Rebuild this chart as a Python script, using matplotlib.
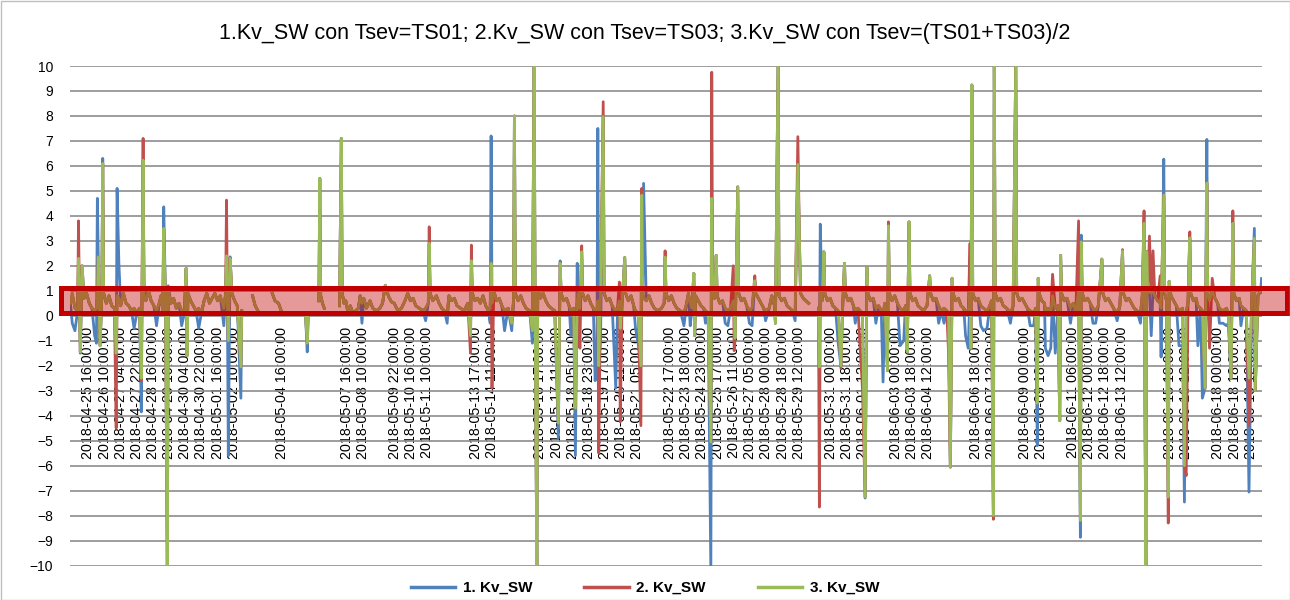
import numpy as np
import matplotlib
matplotlib.use('Agg')
from matplotlib import pyplot as plt
from matplotlib.patches import Rectangle
from matplotlib.lines import Line2D

plt.rcParams['font.family'] = ['Liberation Sans', 'DejaVu Sans']

nan = np.nan
title = "1.Kv_SW con Tsev=TS01; 2.Kv_SW con Tsev=TS03; 3.Kv_SW con Tsev=(TS01+TS03)/2"
names = ['1. Kv_SW', '2. Kv_SW', '3. Kv_SW']
colors = ['#4F81BD', '#C0504D', '#9BBB59']
n_rows = 1329          # hourly rows, row 0 = 2018-04-24 20:00
label_step = 18        # excel shows every 18th category label
first_label = 20

# category labels (blank where the row has no timestamp)
x_labels = ['04-25 16', '04-26 10', '04-27 04', '04-27 22', '04-28 16', '04-29 10',
            '04-30 04', '04-30 22', '05-01 16', '05-02 10', '', '', '05-04 16',
            '', '', '', '05-07 16', '05-08 10', '', '05-09 22', '05-10 16', '05-11 10',
            '', '', '05-13 17', '05-14 11', '', '', '05-16 17', '05-17 11', '05-18 05',
            '05-18 23', '05-19 17', '05-20 11', '05-21 05', '', '05-22 17', '05-23 18',
            '05-24 23', '05-25 17', '05-26 11', '05-27 05', '05-28 00', '05-28 18',
            '05-29 12', '', '05-31 00', '05-31 18', '06-01 12', '', '06-03 00',
            '06-03 18', '06-04 12', '', '', '06-06 18', '06-07 12', '', '06-09 00',
            '06-09 18', '', '06-11 06', '06-12 00', '06-12 18', '06-13 12', '', '',
            '06-15 18', '06-16 12', '', '06-18 00', '06-18 18', '06-19 12']

# series 3 (row, value); nan = missing rows
kv3_pts = [
    (0, 0.5), (2, 0.9), (5, 0.3), (8, 0.2), (9, 2.3), (10, 0.6), (11, -1.45), (12, 0.5),
    (13, 2.0), (15, 0.7), (18, 0.9), (21, 0.5), (24, 0.3), (27, 0.2), (29, 0.3), (30, 0.6),
    (31, 2.36), (33, -1.2), (35, 0.8), (36, 6.1), (37, 0.9), (40, 0.5), (43, 0.8), (46, 0.4),
    (49, 0.3), (51, -1.5), (52, 0.8), (54, 0.7), (56, 0.4), (59, 0.9), (62, 0.5), (65, 0.4),
    (68, 0.2), (71, 0.3), (74, 0.1), (77, 0.3), (79, -2.5), (81, 6.23), (82, 0.8), (84, 0.6),
    (87, 1.0), (90, 0.6), (93, 0.4), (96, 0.2), (99, 0.5), (101, 0.8), (103, 0.2), (104, 3.5),
    (106, 0.6), (108, -10.2), (109, 1.0), (112, 0.5), (115, 0.7), (118, 0.3), (121, 0.5),
    (124, 0.2), (127, 0.1), (129, 1.9), (130, -1.6), (131, 0.9), (134, 0.6), (137, 0.4),
    (140, 0.2), (143, 0.3), (146, 0.1), (149, 0.6), (152, 0.9), (155, 0.5), (158, 0.7),
    (161, 0.9), (164, 0.6), (167, 0.8), (171, 0.3), (173, 0.9), (174, 2.4), (175, 0.5),
    (176, -1.0), (178, 2.3), (180, 0.9), (183, 0.6), (186, 0.4), (190, -2.05), (191, 0.2),
    (192, nan),
    (203, 0.8), (206, 0.4), (209, 0.2), (210, nan),
    (225, 0.9), (228, 0.6), (232, 0.5), (236, 0.1), (237, nan),
    (262, 0.1), (264, -1.1), (265, 0.0), (266, nan),
    (277, 0.6), (278, 5.5), (279, 0.8), (281, 0.5), (283, 0.3), (284, nan),
    (300, 0.4), (302, 7.1), (303, 0.9), (305, 0.5), (307, 0.6), (309, 0.2), (312, 0.4),
    (315, 0.1), (318, 0.2), (321, 0.3), (323, 0.8), (325, 0.5), (327, 0.7), (330, 0.3),
    (334, 0.6), (337, 0.3), (341, 0.2), (345, 0.3), (348, 0.5), (351, 1.22), (353, 0.95),
    (355, 0.75), (358, 0.55), (361, 0.5), (365, 0.2), (369, 0.3), (373, 0.6), (376, 0.9),
    (379, 0.6), (382, 0.7), (385, 0.4), (389, 0.3), (393, 0.2), (396, 0.3), (399, 0.5),
    (400, 2.9), (401, 0.9), (404, 0.6), (408, 0.8), (411, 0.5), (414, 0.3), (417, 0.2),
    (420, 0.1), (422, 0.8), (425, 0.6), (428, 0.7), (431, 0.4), (435, 0.3), (439, 0.2),
    (443, 0.5), (446, -0.8), (447, 2.2), (448, 0.9), (451, 0.6), (454, 0.7), (457, 0.5),
    (460, 0.8), (463, 0.4), (466, 0.2), (468, 0.3), (469, 2.1), (470, 0.5), (472, 1.0),
    (475, 0.6), (478, 0.7), (481, 0.4), (484, 0.2), (488, 0.3), (492, -0.3), (494, 0.6),
    (495, 8.0), (496, 0.9), (499, 0.6), (502, 0.8), (505, 0.5), (508, 0.3), (512, 0.2),
    (515, -0.6), (517, 10.3), (518, 0.8), (520, -10.2), (521, 1.1), (524, 0.7), (527, 0.9),
    (530, 0.6), (533, 0.4), (536, 0.3), (540, 0.2), (544, -4.3), (546, 2.1), (547, 0.9),
    (550, 0.6), (553, 0.7), (556, 0.4), (558, 0.2), (561, 0.3), (563, -3.7), (565, 0.5),
    (566, 0.9), (568, 0.3), (570, 2.56), (571, 0.9), (574, 0.6), (577, 0.8), (580, 0.5),
    (583, 0.3), (585, 0.1), (587, 0.2), (588, 0.6), (589, -2.0), (591, 0.8), (594, 7.97),
    (595, 0.9), (598, 0.6), (601, 0.7), (604, 0.4), (608, 0.2), (610, 0.3), (612, 0.6),
    (613, -0.5), (615, 0.5), (618, 2.33), (619, 0.9), (622, 0.6), (625, 0.8), (628, 0.4),
    (630, 0.2), (633, 0.1), (636, -2.0), (637, 4.83), (638, 0.9), (639, 0.7), (642, 0.6),
    (645, 0.8), (648, 0.5), (651, 0.3), (655, 0.2), (659, 0.3), (662, 0.5), (663, 2.35),
    (664, 0.9), (667, 0.6), (670, 0.8), (673, 0.5), (676, 0.3), (680, 0.2), (684, 0.1),
    (687, 0.5), (689, 0.9), (691, 0.5), (693, 0.3), (695, 1.7), (696, -0.8), (697, 0.8),
    (700, 0.6), (703, 0.4), (706, 0.3), (708, 0.2), (711, 0.1), (714, -5.06), (715, 4.7),
    (716, 0.9), (718, 0.7), (720, 2.42), (721, 0.8), (724, 0.5), (727, 0.6), (730, 0.3),
    (733, 0.2), (736, 0.3), (739, 0.6), (740, 0.4), (741, -0.9), (744, 5.16), (745, 0.9),
    (748, 0.6), (751, 0.7), (754, 0.4), (757, 0.2), (760, 0.3), (763, 1.4), (764, 0.9),
    (767, 0.7), (770, 0.5), (773, 0.3), (775, 0.2), (779, 0.3), (782, 0.8), (785, 0.4),
    (786, -0.3), (789, 10.3), (790, 0.8), (793, 0.6), (796, 0.7), (799, 0.4), (802, 0.3),
    (805, 0.2), (808, 0.1), (811, 6.06), (813, 2.5), (814, 0.9), (817, 0.7), (820, 0.6),
    (823, 0.5), (825, nan),
    (834, 0.3), (835, -2.05), (836, 1.0), (838, 0.6), (840, 2.56), (841, 0.9), (844, 0.6),
    (847, 0.7), (850, 0.4), (853, 0.3), (856, 0.2), (859, -2.0), (861, 0.4), (863, 2.1),
    (864, 0.9), (867, 0.6), (870, 0.7), (873, 0.4), (875, 0.2), (878, 0.3), (883, 0.1),
    (886, -7.26), (888, 1.93), (889, 0.9), (892, 0.6), (895, 0.7), (898, 0.3), (901, 0.4),
    (904, 0.2), (906, 0.1), (908, 0.5), (911, -2.2), (912, 3.6), (913, 0.9), (916, 0.6),
    (919, 0.8), (922, 0.5), (925, 0.3), (929, 0.2), (931, 0.4), (933, -1.45), (935, 3.76),
    (936, 0.9), (939, 0.6), (942, 0.7), (945, 0.4), (948, 0.3), (951, 0.2), (955, 0.4),
    (958, 1.6), (959, 0.9), (962, 0.6), (965, 0.7), (968, 0.4), (971, 0.2), (974, 0.3),
    (977, 0.2), (979, 0.1), (981, -6.06), (983, 1.5), (984, 0.9), (987, 0.6), (990, 0.7),
    (993, 0.4), (996, 0.3), (998, 0.2), (1001, 0.1), (1003, 1.0), (1004, -1.3), (1005, 9.24),
    (1006, 0.9), (1009, 0.6), (1012, 0.7), (1015, 0.4), (1018, 0.3), (1022, 0.2), (1025, 0.4),
    (1027, 0.6), (1029, -8.0), (1030, 10.3), (1031, 0.9), (1034, 0.6), (1037, 0.7),
    (1040, 0.4), (1044, 0.3), (1048, 0.1), (1051, 0.4), (1054, 10.3), (1055, 0.9),
    (1058, 0.6), (1061, 0.7), (1064, 0.5), (1067, 0.3), (1070, 0.2), (1074, 0.1), (1076, 0.3),
    (1078, -3.5), (1079, 1.5), (1080, 0.9), (1083, 0.6), (1086, 0.5), (1087, 0.2), (1090, 0.3),
    (1093, 0.1), (1095, 0.8), (1098, 0.3), (1101, 0.4), (1103, -4.2), (1104, 2.42),
    (1105, 0.9), (1108, 0.6), (1111, 0.7), (1115, 0.3), (1118, 0.5), (1121, 0.2), (1124, 1.0),
    (1126, -8.2), (1127, 2.96), (1128, 0.9), (1131, 0.6), (1134, 0.7), (1137, 0.5),
    (1140, 0.3), (1143, 0.2), (1146, 0.4), (1150, 2.27), (1151, 0.9), (1154, 0.6), (1157, 0.7),
    (1160, 0.5), (1163, 0.3), (1167, 0.1), (1170, 0.4), (1173, 2.6), (1174, 0.9), (1177, 0.6),
    (1180, 0.7), (1183, 0.5), (1186, 0.3), (1189, 0.2), (1193, 0.1), (1195, 0.8), (1197, 3.7),
    (1199, -10.2), (1200, 2.57), (1201, 0.9), (1203, 1.0), (1205, 0.9), (1207, 1.0),
    (1209, 0.8), (1212, 0.6), (1215, 0.5), (1216, 0.3), (1219, 4.83), (1220, 0.9), (1222, 0.6),
    (1224, -7.26), (1225, 1.38), (1227, 0.8), (1230, 0.6), (1233, 0.4), (1236, 0.2),
    (1240, 0.3), (1242, -6.0), (1244, 0.2), (1246, 0.5), (1248, 3.12), (1249, 0.9),
    (1252, 0.6), (1255, 0.7), (1257, 0.4), (1260, 0.3), (1262, 0.2), (1265, -2.9), (1267, 5.32),
    (1268, 0.9), (1270, 0.6), (1273, 1.0), (1276, 0.7), (1279, 0.5), (1281, 0.3), (1285, 0.2),
    (1289, 0.3), (1291, 0.1), (1294, -2.5), (1296, 3.7), (1297, 0.9), (1300, 0.6), (1303, 0.7),
    (1305, 0.4), (1308, 0.3), (1311, 0.2), (1314, -2.5), (1317, 0.5), (1320, 3.1),
    (1321, -3.0), (1324, 0.8), (1327, 1.0), (1328, 1.0),
]

# rows where series 1 differs from series 3
kv1_pts = [
    (2, -0.3), (5, -0.6), (11, -1.5), (27, -0.8), (29, -1.1), (30, 4.7), (36, 6.3), (51, -2.0),
    (52, 5.1), (54, 2.1), (71, -0.5), (79, -3.85), (82, 1.3), (96, -0.4), (104, 4.36),
    (109, 1.2), (124, -0.4), (143, -0.5), (171, -0.4), (176, -5.6), (178, 2.36), (190, -3.3),
    (264, -1.45), (325, -0.3), (396, -0.2), (420, -0.3), (468, -0.3), (469, 7.2), (484, -0.6),
    (492, -0.6), (515, -1.1), (544, -4.9), (546, 2.2), (558, -0.8), (563, -5.6), (565, 2.1),
    (585, -2.6), (587, -1.5), (588, 7.5), (591, -1.0), (608, -2.9), (630, -0.5), (633, -1.1),
    (639, 5.3), (684, -0.4), (691, -0.4), (708, -0.3), (714, -10.2), (730, -0.3), (733, -0.4),
    (757, -0.3), (760, -0.4), (775, -0.2), (808, -0.2), (835, -2.2), (836, 3.67), (856, -1.1),
    (875, -0.3), (886, -7.3), (898, -0.3), (906, -2.65), (925, -1.2), (929, -1.0), (968, -0.3),
    (974, -0.3), (998, -0.8), (1001, -1.3), (1015, -0.4), (1018, -0.6), (1022, -0.5),
    (1048, -0.3), (1070, -0.4), (1074, -0.4), (1078, -5.2), (1087, -1.3), (1090, -1.6),
    (1093, -1.3), (1098, -1.5), (1115, -0.3), (1126, -8.87), (1127, 3.23), (1140, -0.3),
    (1143, -0.3), (1167, -0.2), (1193, -0.3), (1205, -0.8), (1216, -1.65), (1219, 6.27),
    (1236, -1.2), (1240, -1.2), (1242, -7.46), (1257, -1.2), (1262, -3.3), (1267, 7.06),
    (1281, -0.3), (1285, -0.3), (1289, -0.4), (1291, -0.3), (1305, -0.4), (1314, -7.06),
    (1320, 3.5), (1328, 1.49),
]

# rows where series 2 differs from series 3
kv2_pts = [
    (9, 3.8), (51, -4.5), (79, -2.6), (81, 7.1), (174, 4.63), (400, 3.56), (446, -1.5),
    (447, 2.83), (470, -2.9), (568, -1.3), (570, 2.8), (589, -5.5), (594, 8.57), (612, 1.35),
    (613, -4.25), (636, -4.4), (637, 5.1), (663, 2.6), (715, 9.75), (739, 2.0), (740, -1.4),
    (763, 1.6), (811, 7.17), (835, -7.66), (859, -2.1), (883, -2.9), (912, 3.76), (979, -1.45),
    (1003, 2.9), (1029, -8.15), (1095, 1.66), (1124, 3.8), (1173, 2.65), (1197, 4.2),
    (1203, 3.19), (1207, 2.6), (1215, 1.6), (1224, -8.3), (1244, -6.4), (1248, 3.36),
    (1270, -1.3), (1273, 1.5), (1296, 4.2), (1314, -4.4), (1328, 0.95),
]


def series(diff):
    d = dict(kv3_pts)
    d.update(diff)
    rows = sorted(d)
    return np.array(rows), np.array([d[r] for r in rows])


W, H = 1290, 600
fig = plt.figure(figsize=(W / 100, H / 100), dpi=100)
ax = fig.add_axes([70 / W, 34.5 / H, 1192 / W, 499.5 / H])

for diff, c in zip([kv1_pts, kv2_pts, []], colors):
    x, y = series(diff)
    ax.plot(x, y, color=c, lw=2.0, solid_joinstyle='round')

ax.set_xlim(-0.5, n_rows - 0.5)
ax.set_ylim(-10, 10)
ax.set_yticks(np.arange(-10, 11, 1))
ax.yaxis.grid(True, color='#8C8C8C', lw=1.2)
ax.set_axisbelow(True)
for s in ['left', 'right', 'top']:
    ax.spines[s].set_visible(False)
ax.spines['bottom'].set_position(('data', 0))
ax.spines['bottom'].set_color('none')

ticks = [first_label + label_step * i for i in range(len(x_labels))]
ax.set_xticks(ticks)
ax.set_xticklabels(['2018-' + t + ':00:00' if t else '' for t in x_labels],
                   rotation=90, fontsize=10.3)
ax.tick_params(axis='x', length=0, pad=8)
ax.tick_params(axis='y', length=0, pad=12, labelsize=10)

fig.text(0.5, 1 - 33 / H, title, ha='center', va='center', fontsize=15.5)

handles = [Line2D([], [], color=c, lw=2.5) for c in colors]
fig.legend(handles, names, loc='center', bbox_to_anchor=(0.5, 1 - 588 / H), ncol=3,
           frameon=False, prop={'weight': 'bold', 'size': 11},
           handlelength=2.9, columnspacing=3.4, handletextpad=0.5)

# highlight band drawn over the plot
fig.add_artist(Rectangle((61 / W, (H - 312.5) / H), (1287 - 61) / W, 25 / H,
                         transform=fig.transFigure, facecolor=(0.753, 0, 0, 0.4),
                         edgecolor='#C00000', lw=3.6))
fig.add_artist(Rectangle((0.5 / W, 0.5 / H), (W - 1) / W, (H - 1) / H,
                         transform=fig.transFigure, fill=False, edgecolor='#BFBFBF', lw=1))

fig.savefig('out.png', dpi=100)
